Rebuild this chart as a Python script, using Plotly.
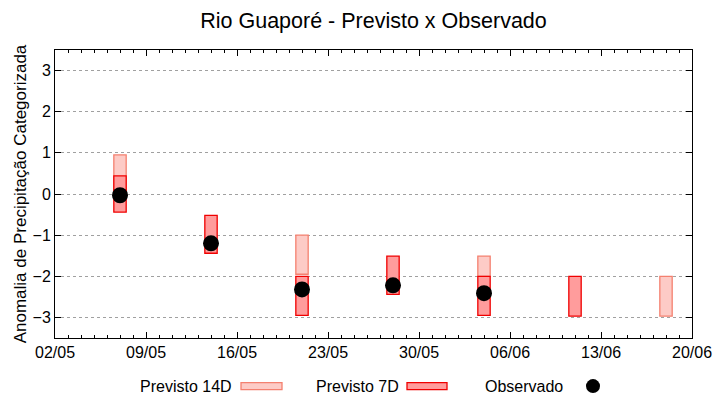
import plotly.graph_objects as go

dates = ["2024-05-07", "2024-05-14", "2024-05-21", "2024-05-28", "2024-06-04", "2024-06-11", "2024-06-18"]
p14_low = [0.0, None, -1.95, None, -2.0, None, -2.97]
p14_high = [0.95, None, -1.0, None, -1.51, None, -2.0]
p7_low = [-0.44, -1.44, -2.95, -2.44, -2.95, -2.97, None]
p7_high = [0.44, -0.52, -2.0, -1.51, -2.0, -2.0, None]
obs = [-0.03, -1.2, -2.32, -2.22, -2.41, None, None]

DAY = 86400000

def span(lo, hi):
    b, h = [], []
    for l, u in zip(lo, hi):
        if l is None:
            b.append(None); h.append(None)
        else:
            b.append(l); h.append(u - l)
    return b, h

b14, h14 = span(p14_low, p14_high)
b7, h7 = span(p7_low, p7_high)

fig = go.Figure()
fig.add_trace(go.Bar(x=dates, y=h14, base=b14, width=DAY * 0.95,
                     marker=dict(color="#fdcbc6", line=dict(color="#f4806f", width=1.3)),
                     name="Previsto 14D", showlegend=False))
fig.add_trace(go.Bar(x=dates, y=h7, base=b7, width=DAY * 0.95,
                     marker=dict(color="#ff9c9c", line=dict(color="#f00000", width=1.3)),
                     name="Previsto 7D", showlegend=False))
fig.add_trace(go.Scatter(x=dates, y=obs, mode="markers",
                         marker=dict(color="black", size=16, symbol="circle"),
                         name="Observado", showlegend=False))

font = "Liberation Sans, Arial, sans-serif"
fig.update_layout(
    width=720, height=400,
    margin=dict(l=55, r=28, t=50, b=62),
    paper_bgcolor="white", plot_bgcolor="white",
    barmode="overlay",
    font=dict(family=font, size=16, color="black"),
    title=dict(text="Rio Guaporé - Previsto x Observado", x=0.5, xanchor="center",
               xref="paper", y=0.95, yanchor="middle", font=dict(size=21.5, family=font)),
    xaxis=dict(type="date", range=["2024-05-02", "2024-06-20"], automargin=False,
               tick0="2024-05-02", dtick=7 * DAY, tickformat="%d/%m",
               ticks="inside", ticklen=6, tickcolor="black", mirror="allticks",
               showline=True, linecolor="black", linewidth=1, showgrid=False,
               zeroline=False,
               minor=dict(dtick=DAY, ticks="inside", ticklen=3, tickcolor="black"),
               tickfont=dict(size=16)),
    yaxis=dict(range=[-3.5, 3.5], dtick=1, tick0=0, ticks="inside", ticklen=6,
               automargin=False,
               tickcolor="black", mirror="allticks", showline=True, linecolor="black",
               linewidth=1, showgrid=True, gridcolor="#a0a0a0", griddash="dot",
               gridwidth=1, zeroline=False,
               title=dict(text="Anomalia de Precipitação Categorizada", standoff=1,
                          font=dict(size=17)),
               tickfont=dict(size=16)),
)

# manual legend (text before sample, like gnuplot)
leg_y = -0.167
fig.add_annotation(text="Previsto 14D", xref="paper", yref="paper", x=(234 - 55) / 637,
                   y=leg_y, xanchor="right", yanchor="middle", showarrow=False)
fig.add_shape(type="rect", xref="paper", yref="paper",
              x0=(241 - 55) / 637, x1=(282 - 55) / 637,
              y0=leg_y - 0.012, y1=leg_y + 0.012,
              fillcolor="#fdcbc6", line=dict(color="#f4806f", width=1.3))
fig.add_annotation(text="Previsto 7D", xref="paper", yref="paper", x=(401 - 55) / 637,
                   y=leg_y, xanchor="right", yanchor="middle", showarrow=False)
fig.add_shape(type="rect", xref="paper", yref="paper",
              x0=(407 - 55) / 637, x1=(447 - 55) / 637,
              y0=leg_y - 0.012, y1=leg_y + 0.012,
              fillcolor="#ff9c9c", line=dict(color="#f00000", width=1.3))
fig.add_annotation(text="Observado", xref="paper", yref="paper", x=(565 - 55) / 637,
                   y=leg_y, xanchor="right", yanchor="middle", showarrow=False)
fig.add_shape(type="circle", xref="paper", yref="paper",
              x0=(593 - 55 - 7) / 637, x1=(593 - 55 + 7) / 637,
              y0=leg_y - 7 / 288, y1=leg_y + 7 / 288,
              fillcolor="black", line=dict(color="black", width=0))

fig.write_html("out.html", config={"displayModeBar": False},
               post_script="document.body.style.margin='0';document.body.style.overflow='hidden';")
